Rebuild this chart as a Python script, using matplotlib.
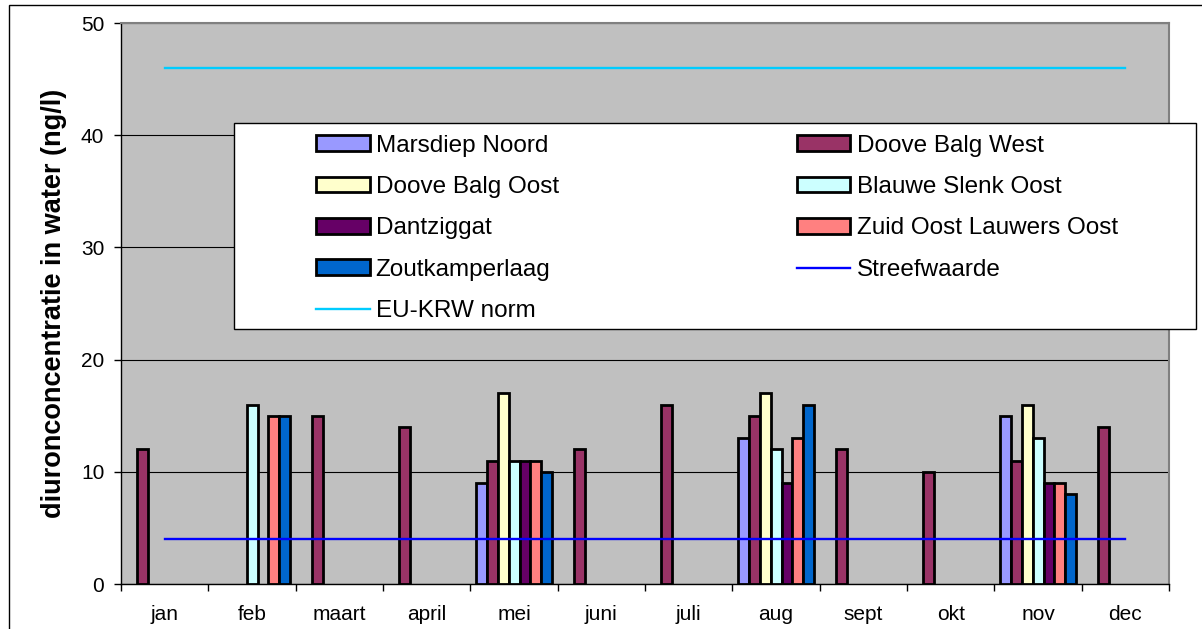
"""
Diuron concentrations in Wadden Sea water per month and station,
with the target value (Streefwaarde) and the EU-KRW norm.
"""

import numpy as np
import matplotlib
matplotlib.use("Agg")
import matplotlib.pyplot as plt
from matplotlib.patches import Rectangle

plt.rcParams.update({
    "font.family": ["Liberation Sans", "DejaVu Sans"],
    "figure.facecolor": "white",
})

MONTHS = ["jan", "feb", "maart", "april", "mei", "juni",
          "juli", "aug", "sept", "okt", "nov", "dec"]

nan = np.nan
# ng/l per month, one list per station (nan = no measurement)
marsdiep_noord      = [nan, nan, nan, nan,  9, nan, nan, 13, nan, nan, 15, nan]
doove_balg_west     = [12,  nan, 15,  14,  11, 12,  16,  15, 12,  10,  11, 14]
doove_balg_oost     = [nan, nan, nan, nan, 17, nan, nan, 17, nan, nan, 16, nan]
blauwe_slenk_oost   = [nan, 16,  nan, nan, 11, nan, nan, 12, nan, nan, 13, nan]
dantziggat          = [nan, nan, nan, nan, 11, nan, nan,  9, nan, nan,  9, nan]
zuid_oost_lauwers   = [nan, 15,  nan, nan, 11, nan, nan, 13, nan, nan,  9, nan]
zoutkamperlaag      = [nan, 15,  nan, nan, 10, nan, nan, 16, nan, nan,  8, nan]

STREEFWAARDE = 4
EU_KRW_NORM = 46

SERIES = [
    ("Marsdiep Noord", marsdiep_noord, "#9999FF"),
    ("Doove Balg West", doove_balg_west, "#993366"),
    ("Doove Balg Oost", doove_balg_oost, "#FFFFCC"),
    ("Blauwe Slenk Oost", blauwe_slenk_oost, "#CCFFFF"),
    ("Dantziggat", dantziggat, "#660066"),
    ("Zuid Oost Lauwers Oost", zuid_oost_lauwers, "#FF8080"),
    ("Zoutkamperlaag", zoutkamperlaag, "#0066CC"),
]

fig = plt.figure(figsize=(12.02, 6.29), dpi=100)
ax = fig.add_axes([0.1007, 0.0715, 0.8719, 0.8919])
ax.set_facecolor("#C0C0C0")

x = np.arange(len(MONTHS))
n = len(SERIES)
width = 1.0 / (n + 1)  # Excel-style 100% gap width

handles = {}
for i, (name, vals, color) in enumerate(SERIES):
    bars = ax.bar(x + (i - (n - 1) / 2) * width, np.array(vals, dtype=float), width,
                  color=color, edgecolor="black", linewidth=2.0, zorder=3)
    handles[name] = bars

line_sw, = ax.plot(x, np.full(len(MONTHS), STREEFWAARDE), color="#0000FF", lw=1.7, zorder=4)
line_eu, = ax.plot(x, np.full(len(MONTHS), EU_KRW_NORM), color="#00CCFF", lw=1.7, zorder=4)

ax.set_xlim(-0.5, len(MONTHS) - 0.5)
ax.set_ylim(0, 50)
ax.set_yticks(np.arange(0, 51, 10))
ax.yaxis.grid(True, color="black", lw=0.8)
ax.set_axisbelow(True)

# category boundaries get the tick marks, labels sit in the middle
ax.set_xticks(np.arange(-0.5, len(MONTHS), 1.0))
ax.set_xticklabels([])
ax.set_xticks(x, minor=True)
ax.set_xticklabels(MONTHS, minor=True, fontsize=15)
ax.tick_params(axis="x", which="major", direction="out", length=5, width=1)
ax.tick_params(axis="x", which="minor", length=0, pad=15)
ax.tick_params(axis="y", direction="out", length=5, width=1, pad=7, labelsize=15)

ax.set_ylabel("diuronconcentratie in water (ng/l)", fontsize=19.5, fontweight="bold")
ax.yaxis.set_label_coords(-0.052, 0.5)

for side in ("top", "right"):
    ax.spines[side].set_color("#808080")
    ax.spines[side].set_linewidth(1.5)
for side in ("left", "bottom"):
    ax.spines[side].set_color("black")
    ax.spines[side].set_linewidth(1)

# legend frame, wider than the plot area
ax.add_patch(Rectangle((0.1078, 0.4545), 0.918, 0.3672, transform=ax.transAxes,
                       facecolor="white", edgecolor="black", lw=1,
                       clip_on=False, zorder=4.5))

leg_kw = dict(loc="upper left", frameon=False, fontsize=17.5, borderpad=0,
              handlelength=2.2, handleheight=0.62, handletextpad=0.25,
              labelspacing=0.80, borderaxespad=0)
col1 = ["Marsdiep Noord", "Doove Balg Oost", "Dantziggat", "Zoutkamperlaag"]
col2 = ["Doove Balg West", "Blauwe Slenk Oost", "Zuid Oost Lauwers Oost"]

leg1 = ax.legend([handles[k] for k in col1] + [line_eu], col1 + ["EU-KRW norm"],
                 bbox_to_anchor=(0.1861, 0.8012), **leg_kw)
ax.add_artist(leg1)
ax.legend([handles[k] for k in col2] + [line_sw], col2 + ["Streefwaarde"],
          bbox_to_anchor=(0.6450, 0.8012), **leg_kw)

# outer chart border
fig.patches.append(Rectangle((0.0075, -0.1), 1.2, 1.092, transform=fig.transFigure,
                             facecolor="none", edgecolor="black", lw=1))

fig.savefig("out.png", dpi=100)
